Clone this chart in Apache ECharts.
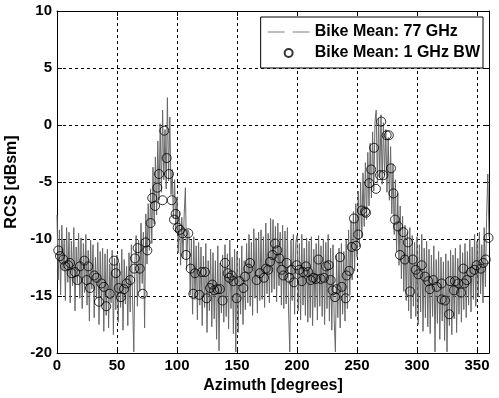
<!DOCTYPE html>
<html>
<head>
<meta charset="utf-8">
<script src="https://cdn.jsdelivr.net/npm/echarts@6/dist/echarts.min.js"></script>
<style>
  html, body { margin: 0; padding: 0; background: #fff; }
  #chart { width: 499px; height: 398px; }
</style>
</head>
<body>
<div id="chart"></div>
<script>
// 77 GHz trace, one value per degree of azimuth (0..360)
const meanStep = 1
const mean77 = [
  -7.9, -13.6, -9.2, -14.9, -8.8, -12.7, -10.1, -15.4, -9.0, -13.8,
  -9.4, -15.6, -10.2, -14.1, -9.0, -16.3, -10.7, -13.9, -9.5, -15.2,
  -9.9, -16.1, -10.4, -14.7, -9.6, -15.8, -11.0, -17.2, -10.1, -14.4,
  -10.5, -16.9, -11.6, -15.2, -10.3, -17.5, -11.1, -15.9, -10.8, -18.1,
  -11.3, -16.7, -10.9, -17.8, -12.2, -15.6, -11.0, -18.4, -11.7, -16.2,
  -11.4, -17.3, -12.1, -16.0, -10.9, -18.0, -11.8, -15.7, -12.4, -17.6,
  -11.2, -16.4, -10.5, -15.5, -19.9, -11.8, -9.7, -15.9, -10.1, -14.6,
  -8.6, -13.9, -9.4, -17.8, -7.8, -12.2, -6.9, -11.0, -5.6, -10.4,
  -3.7, -8.7, -2.8, -7.9, -1.4, -6.6, 0.1, -5.9, 1.3, -4.8,
  -0.4, -5.6, 2.4, -4.9, 0.7, -6.1, -3.9, -8.2, -4.8, -9.4,
  -6.3, -11.2, -7.6, -12.3, -8.1, -11.7, -7.8, -5.5, -12.6, -9.2,
  -9.4, -14.9, -10.1, -16.6, -9.8, -15.3, -10.6, -17.1, -10.3, -15.8,
  -10.7, -17.6, -11.5, -16.0, -10.4, -18.2, -11.9, -16.3, -10.9, -17.7,
  -11.2, -17.0, -11.9, -18.8, -10.6, -19.8, -12.1, -16.5, -11.4, -17.3,
  -10.5, -16.8, -11.3, -17.9, -10.1, -16.1, -11.6, -18.3, -10.9, -19.9,
  -11.1, -18.2, -11.7, -16.6, -10.6, -17.5, -11.9, -16.2, -10.4, -15.6,
  -9.6, -15.9, -10.3, -16.7, -9.1, -15.2, -9.9, -16.5, -9.4, -15.4,
  -9.2, -15.3, -9.8, -16.0, -8.6, -14.8, -9.5, -15.6, -8.2, -14.7,
  -8.3, -14.4, -8.9, -15.5, -8.6, -14.1, -9.4, -15.8, -8.8, -16.1,
  -9.3, -15.7, -9.0, -16.4, -19.9, -10.1, -15.4, -9.6, -16.6, -10.3,
  -9.7, -16.3, -10.4, -17.1, -9.6, -15.8, -10.8, -16.7, -9.9, -17.3,
  -10.2, -16.9, -9.8, -17.6, -10.9, -16.0, -10.4, -17.1, -9.7, -15.9,
  -10.6, -16.8, -10.0, -17.5, -10.3, -16.1, -9.6, -17.2, -10.8, -18.0,
  -10.5, -17.1, -19.9, -11.4, -16.9, -10.8, -17.8, -10.4, -16.6, -11.1,
  -17.2, -10.1, -16.1, -9.2, -14.9, -8.4, -13.6, -7.6, -12.8, -6.9,
  -11.6, -5.8, -10.7, -5.0, -9.9, -4.2, -8.9, -3.3, -8.3, -2.4,
  -7.1, -1.6, -6.4, -0.6, -5.8, 0.3, 1.3, -5.1, 0.6, -4.6,
  0.9, -5.2, 0.2, -4.4, -0.4, -5.9, -1.1, -6.6, -1.9, -7.8,
  -3.4, -9.6, -4.8, -11.1, -6.0, -12.3, -7.1, -13.5, -8.0, -14.6,
  -8.8, -15.4, -9.4, -16.3, -9.0, -17.0, -9.7, -15.9, -10.3, -16.8,
  -9.8, -17.5, -10.5, -16.4, -9.6, -18.1, -10.8, -16.9, -10.2, -17.7,
  -10.9, -18.3, -11.4, -16.8, -10.6, -19.9, -11.8, -17.4, -11.1, -18.8,
  -11.6, -17.2, -12.0, -18.9, -11.3, -19.9, -11.9, -17.6, -11.0, -18.4,
  -11.4, -17.0, -10.8, -18.2, -11.7, -16.6, -10.5, -17.3, -11.2, -16.2,
  -10.4, -16.9, -11.1, -15.8, -10.0, -16.4, -10.7, -15.3, -9.6, -15.9,
  -10.2, -15.1, -9.4, -14.8, -10.5, -15.6, -9.0, -14.2, -8.1, -4.3, -9.8,
]

// 1 GHz bandwidth points: [azimuth, RCS]
const mean1GHz = [
  [1.1, -11.0], [2.5, -11.5], [5.3, -11.8], [6.7, -12.4], [9.4, -12.3], [10.8, -12.1],
  [12.2, -13.0], [15, -12.9], [17, -13.6], [19, -12.4], [22.8, -11.9], [24.7, -13.6],
  [26, -12.4], [27.5, -14.3], [31, -13.2], [33, -13.4], [35, -15.5], [37, -13.9],
  [39, -14.2], [41, -15.9], [44, -14.8], [47.5, -11.9], [49, -13.0], [51.4, -14.3],
  [53.3, -15.1], [55.8, -14.4], [58, -13.9], [61, -13.6], [64.4, -12.6], [65, -11.7],
  [67.2, -10.8], [69, -12.6], [71.4, -14.8], [73.9, -10.3], [75.3, -11.0], [78, -8.6],
  [79.4, -6.4], [81.7, -7.1], [83.6, -5.5], [85, -4.3], [88, -6.6], [89.4, -0.5],
  [91.4, -2.9], [93.3, -4.3], [95.6, -6.6], [97.5, -8.3], [98.9, -7.8], [100.6, -9.0],
  [102.5, -9.2], [104.7, -9.5], [107.5, -11.4], [109.4, -9.5], [111.4, -12.6], [113.6, -14.8],
  [115, -13.0], [118.6, -14.9], [120.6, -12.9], [123.3, -12.9], [124.7, -15.2], [127.5, -14.3],
  [129.4, -14.0], [131, -14.5], [133.6, -14.4], [135.8, -14.4], [138, -15.4], [140, -12.1],
  [142.2, -13.0], [143.6, -13.4], [145.6, -13.2], [147, -13.7], [149.7, -15.2], [152, -13.7],
  [155.3, -14.3], [156.7, -13.3], [159.4, -12.6], [160.8, -12.1], [166.4, -13.6], [169, -13.0],
  [172.5, -13.4], [174, -12.6], [176, -12.7], [177.5, -12.0], [179.7, -11.4], [181.7, -10.4],
  [183.6, -11.0], [185.3, -11.7], [187.2, -12.7], [188.6, -13.2], [191.4, -12.1], [193.6, -13.4],
  [195.6, -12.7], [197.5, -13.8], [199.7, -12.3], [201.9, -12.7], [204, -13.7], [205.3, -12.9],
  [207.5, -12.4], [209.4, -12.9], [211.4, -13.6], [213.6, -13.4], [215.8, -13.5], [217.8, -11.8],
  [219.7, -13.5], [222.5, -13.4], [224.2, -12.4], [226.4, -12.3], [228, -13.6], [229.7, -14.5],
  [231.7, -15.1], [233, -14.4], [235.8, -11.6], [237.3, -14.2], [240.6, -15.2], [241.4, -13.2],
  [243.6, -12.8], [245.6, -10.7], [247.5, -8.2], [249.2, -10.6], [251, -9.6], [254, -7.5],
  [256.7, -7.6], [257.5, -7.7], [260.2, -5.1], [261.8, -3.9], [264.2, -2.0], [265.8, -5.6],
  [269.2, -4.4], [270.2, 0.3], [272, -4.4], [274.7, -0.9], [276.5, -0.9], [278.3, -3.8],
  [280.3, -6.0], [281.7, -8.3], [284.2, -8.9], [285.8, -11.4], [288.6, -9.4], [290, -11.8],
  [292.5, -10.3], [294.2, -14.6], [296.5, -11.8], [299, -12.7], [301.1, -13.1], [303.9, -12.3],
  [306.7, -13.3], [309.4, -13.7], [310.8, -14.4], [313.6, -13.6], [316.4, -14.2], [320.6, -13.9],
  [320.6, -15.3], [323.3, -15.4], [326.8, -16.6], [327.5, -13.7], [330.8, -14.5], [331.7, -13.7],
  [334.4, -13.9], [336.7, -14.7], [338.6, -12.6], [339.4, -13.9], [341.4, -13.6], [345, -12.9],
  [347.8, -12.7], [349.7, -12.3], [353.3, -12.6], [355.3, -12.1], [357.3, -11.8], [359.6, -9.9],
]

const seriesNames = ['Bike Mean: 77 GHz', 'Bike Mean: 1 GHz BW']
const xTicks = { min: 0, max: 360, interval: 50 }
const yTicks = { min: -20, max: 10, interval: 5 }

const font = 'Liberation Sans, Arial, sans-serif'
const chart = echarts.init(document.getElementById('chart'))

const dashed = { show: true, lineStyle: { color: '#000', type: [3, 3], width: 1 } }
const axisLine = { show: true, onZero: false, lineStyle: { color: '#000', width: 1 } }
const tick = { show: true, inside: true, length: 5, lineStyle: { color: '#000' } }
const label = { color: '#000', fontFamily: font, fontWeight: 'bold', fontSize: 15 }
const title = { ...label, fontSize: 16 }

const option = {
  animation: false,
  backgroundColor: '#fff',
  grid: { left: 57, right: 10, top: 11, bottom: 45, containLabel: false, outerBoundsMode: 'none' },
  legend: {
    orient: 'vertical',
    right: 16,
    top: 17,
    backgroundColor: '#fff',
    borderColor: '#000',
    borderWidth: 1,
    borderRadius: 0,
    padding: [7, 3, 7, 7],
    itemGap: 5,
    itemWidth: 42,
    itemHeight: 8,
    textStyle: { ...title, lineHeight: 16 },
    data: [
      { name: seriesNames[0], icon: 'path://M0,0H17V1H0Z M25,0H42V1H25Z', itemStyle: { color: '#808080' } },
      { name: seriesNames[1], icon: 'circle' },
    ],
  },
  xAxis: [
    {
      type: 'value',
      ...xTicks,
      name: 'Azimuth [degrees]',
      nameLocation: 'middle',
      nameGap: 22,
      nameTextStyle: title,
      axisLine,
      axisTick: tick,
      axisLabel: { ...label, margin: 5, formatter: (v) => (v === 360 ? '' : v) },
      splitLine: dashed,
    },
    {
      type: 'value',
      ...xTicks,
      position: 'top',
      axisLine,
      axisTick: tick,
      axisLabel: { show: false },
      splitLine: { show: false },
    },
  ],
  yAxis: [
    {
      type: 'value',
      ...yTicks,
      name: 'RCS [dBsm]',
      nameLocation: 'middle',
      nameGap: 34,
      nameTextStyle: title,
      axisLine,
      axisTick: tick,
      axisLabel: { ...label, margin: 5 },
      splitLine: dashed,
    },
    {
      type: 'value',
      ...yTicks,
      position: 'right',
      axisLine,
      axisTick: tick,
      axisLabel: { show: false },
      splitLine: { show: false },
    },
  ],
  series: [
    {
      name: seriesNames[0],
      type: 'line',
      data: mean77.map((v, i) => [i * meanStep, v]),
      symbol: 'none',
      lineStyle: { color: '#686868', width: 1 },
      itemStyle: { color: '#686868' },
      z: 2,
    },
    {
      name: seriesNames[1],
      type: 'scatter',
      data: mean1GHz,
      symbol: 'circle',
      symbolSize: 9,
      itemStyle: { color: 'rgba(0,0,0,0)', borderColor: '#000', borderWidth: 1 },
      z: 3,
    },
  ],
}

chart.setOption(option)
</script>
</body>
</html>
